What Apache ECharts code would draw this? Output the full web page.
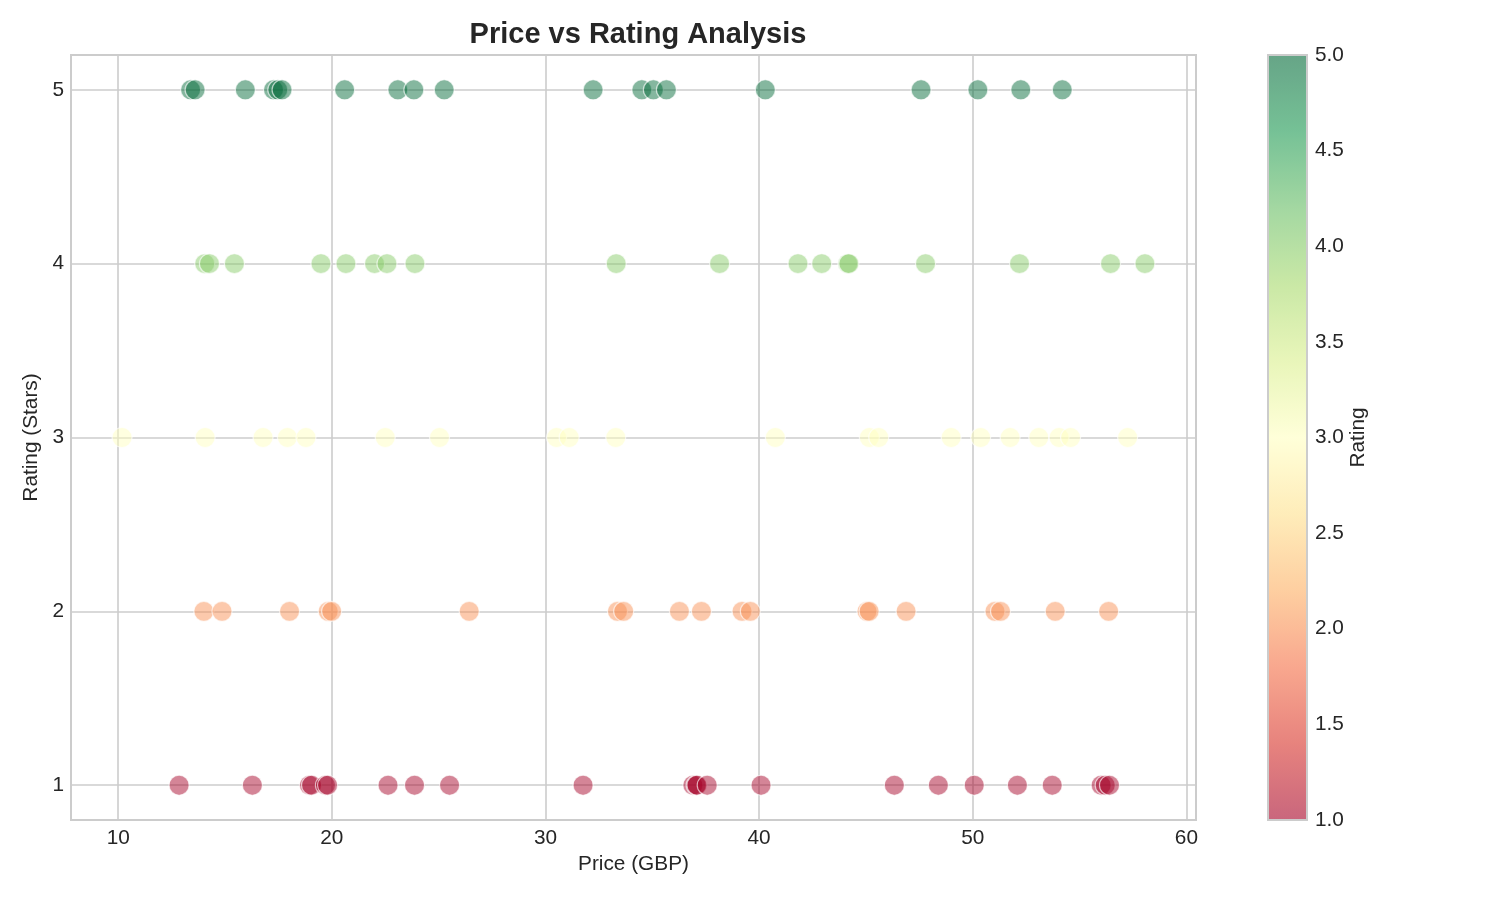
<!DOCTYPE html>
<html lang="en">
<head>
    <meta charset="UTF-8">
    <title>Price vs Rating Analysis</title>
    <script src="https://cdn.jsdelivr.net/npm/echarts@6/dist/echarts.min.js"></script>
    <style>
        body { margin: 0; background: #fff; }
        #chart { width: 1500px; height: 900px; }
    </style>
</head>
<body>
<div id="chart"></div>
<script>
    // prices, one list per star rating
    const rating5Prices = [13.39, 13.6, 15.95, 17.27, 17.47, 17.67, 20.6, 23.09, 23.84, 25.26,
        32.23, 34.51, 35.05, 35.66, 40.29, 47.58, 50.24, 52.25, 54.19];
    const rating4Prices = [14.05, 14.27, 15.44, 19.49, 20.66, 22.0, 22.58, 23.89, 33.31, 38.15,
        41.82, 42.93, 44.15, 44.2, 47.79, 52.19, 56.45, 58.06];
    const rating3Prices = [10.18, 14.07, 16.78, 17.92, 18.79, 22.5, 25.04, 30.52, 31.11, 33.29,
        40.76, 45.16, 45.6, 48.99, 50.37, 51.75, 53.09, 54.04, 54.58, 57.25];
    const rating2Prices = [14.01, 14.86, 18.02, 19.83, 19.99, 26.43, 33.37, 33.66, 36.27, 37.3,
        39.2, 39.59, 45.05, 45.15, 46.88, 51.04, 51.3, 53.86, 56.36];
    const rating1Prices = [12.85, 16.28, 18.95, 19.05, 19.7, 19.8, 22.63, 23.87, 25.51, 31.76,
        36.9, 37.05, 37.09, 37.57, 40.09, 46.33, 48.39, 50.07, 52.09, 53.72, 56.01, 56.2, 56.4];
    const ratings = [1, 2, 3, 4, 5];
    const colorbarTicks = [1.0, 1.5, 2.0, 2.5, 3.0, 3.5, 4.0, 4.5, 5.0];

    // RdYlGn at alpha 0.6
    const rdylgn = ['#a50026', '#d73027', '#f46d43', '#fdae61', '#fee08b', '#ffffbf',
        '#d9ef8b', '#a6d96a', '#66bd63', '#1a9850', '#006837'];
    function withAlpha(hex, a) {
        const n = parseInt(hex.slice(1), 16);
        return 'rgba(' + (n >> 16) + ',' + ((n >> 8) & 255) + ',' + (n & 255) + ',' + a + ')';
    }

    const points = [];
    [rating1Prices, rating2Prices, rating3Prices, rating4Prices, rating5Prices].forEach(function (list, i) {
        list.forEach(function (p) { points.push([p, ratings[i]]); });
    });

    const font = 'Liberation Sans, Arial, sans-serif';
    const textColor = '#262626';
    const gridColor = '#cccccc';
    const fs = 20.8;
    const isWhole = function (v, step) { return Math.abs(v / step - Math.round(v / step)) < 1e-6; };

    const chart = echarts.init(document.getElementById('chart'));
    chart.setOption({
        animation: false,
        backgroundColor: '#ffffff',
        textStyle: { fontFamily: font },
        title: {
            text: 'Price vs Rating Analysis',
            left: 633,
            top: 15,
            textAlign: 'center',
            textStyle: { fontSize: 29, fontWeight: 'bold', color: textColor, fontFamily: font }
        },
        grid: [
            {left: 71, right: 304, top: 55, bottom: 80, show: true, borderColor: gridColor, borderWidth: 2,
                backgroundColor: 'transparent'},
            {left: 1268, width: 39, top: 55, bottom: 80, show: true, borderColor: gridColor, borderWidth: 2,
                backgroundColor: 'transparent', z: 10}
        ],
        xAxis: [
            {
                type: 'value', gridIndex: 0, min: 7.79, max: 60.45, splitNumber: 5,
                name: 'Price (GBP)', nameLocation: 'middle', nameGap: 31,
                nameTextStyle: {fontSize: fs, color: textColor},
                axisLine: {show: false}, axisTick: {show: false},
                axisLabel: {fontSize: fs, color: textColor, margin: 8,
                    formatter: function (v) { return isWhole(v, 10) ? String(Math.round(v)) : ''; }},
                splitLine: {show: true, lineStyle: {color: gridColor, width: 1.6}}
            },
            {type: 'value', gridIndex: 1, show: false, min: 0, max: 1}
        ],
        yAxis: [
            {
                type: 'value', gridIndex: 0, min: 0.8, max: 5.2, splitNumber: 5,
                name: 'Rating (Stars)', nameLocation: 'middle', nameGap: 29, nameRotate: 90,
                nameTextStyle: {fontSize: fs, color: textColor},
                axisLine: {show: false}, axisTick: {show: false},
                axisLabel: {fontSize: fs, color: textColor, margin: 7,
                    formatter: function (v) { return isWhole(v, 1) ? String(Math.round(v)) : ''; }},
                splitLine: {show: true, lineStyle: {color: gridColor, width: 1.6}}
            },
            {
                type: 'value', gridIndex: 1, position: 'right', min: 1, max: 5, splitNumber: 8,
                name: 'Rating', nameLocation: 'middle', nameGap: 40, nameRotate: 90,
                nameTextStyle: {fontSize: fs, color: textColor},
                axisLine: {show: false}, axisTick: {show: false}, splitLine: {show: false},
                axisLabel: {fontSize: fs, color: textColor, margin: 8,
                    formatter: function (v) {
                        return colorbarTicks.some(function (t) { return Math.abs(t - v) < 1e-6; }) ? v.toFixed(1) : '';
                    }}
            }
        ],
        visualMap: {
            type: 'continuous',
            seriesIndex: 0,
            dimension: 1,
            min: 1,
            max: 5,
            orient: 'vertical',
            left: 1268,
            top: 55,
            padding: 0,
            itemWidth: 39,
            itemHeight: 765,
            calculable: false,
            hoverLink: false,
            showLabel: false,
            text: null,
            inRange: {color: rdylgn.map(function (c) { return withAlpha(c, 0.6); })},
            outOfRange: {color: '#ffffff'}
        },
        series: [{
            type: 'scatter',
            xAxisIndex: 0,
            yAxisIndex: 0,
            data: points,
            symbolSize: 20,
            itemStyle: {borderColor: 'rgba(255,255,255,0.8)', borderWidth: 1.2}
        }]
    });
</script>
</body>
</html>
